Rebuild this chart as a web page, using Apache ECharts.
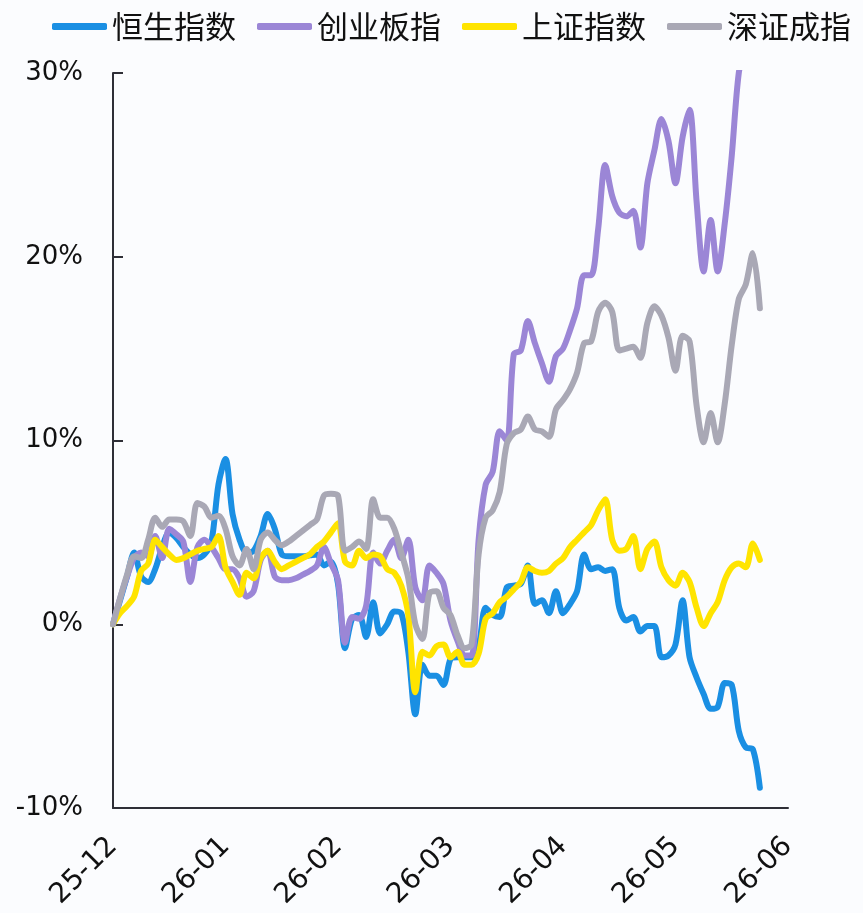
<!DOCTYPE html>
<html>
<head>
<meta charset="utf-8">
<script src="https://cdn.jsdelivr.net/npm/echarts@6/dist/echarts.min.js"></script>
<style>
html,body{margin:0;padding:0;background:#fbfcfe;}
#chart{width:863px;height:913px;}
</style>
</head>
<body>
<div id="chart"></div>
<script>
// Month tick labels (x axis)
const months = ['25-12','26-01','26-02','26-03','26-04','26-05','26-06'];
const stepsPerMonth = 16;
// Series names
const seriesNames = ['恒生指数','创业板指','上证指数','深证成指'];
// Cumulative returns (%) at each step
const hsi = [0,1.3,2.6,3.9,2.6,2.3,3.0,4.2,5.0,4.7,4.2,3.8,3.6,3.8,4.5,7.6,
  9.0,6.0,4.6,3.9,4.0,4.8,6.0,5.2,3.8,3.7,3.7,3.7,3.75,3.8,3.2,3.4,
  2.2,-1.3,0.3,0.5,-0.7,1.2,-0.5,0.0,0.7,0.6,-1.5,-4.9,-2.2,-2.8,-2.8,-3.3,
  -1.9,-1.8,-1.8,-1.8,-1.2,0.9,0.5,0.4,2.0,2.1,2.2,3.2,1.1,1.3,0.6,1.8,
  0.6,1.1,1.8,3.8,3.0,3.1,2.9,3.0,0.9,0.2,0.4,-0.4,-0.1,-0.1,-1.8,-1.7,
  -1.1,1.3,-1.8,-2.9,-3.8,-4.6,-4.5,-3.2,-3.3,-5.8,-6.7,-6.8,-8.9];
const chinext = [0,1.4,2.6,3.6,3.9,3.7,4.8,3.6,5.2,4.9,4.5,2.3,4.2,4.6,4.2,3.6,
  3.0,3.0,2.5,1.5,1.8,3.5,4.0,2.6,2.4,2.4,2.5,2.7,2.9,3.2,4.2,3.3,
  2.4,-1.0,0.4,0.3,1.0,3.9,3.3,4.0,4.6,3.6,4.6,2.0,1.3,3.2,2.8,2.2,
  0.2,-0.9,-1.7,-1.7,4.6,7.6,8.3,10.5,10.0,14.7,14.9,16.5,15.3,14.2,13.2,14.6,
  15.0,16.0,17.2,19.0,19.0,21.5,25.0,23.3,22.4,22.2,22.5,20.5,24.0,25.8,27.5,26.3,
  24.0,26.5,28.0,23.0,19.2,22.0,19.2,21.8,25.5,30.0,31.5,32.5,33.0];
const sse = [0,0.6,1.0,1.5,2.9,3.3,4.6,4.2,3.8,3.5,3.6,3.8,4.0,4.1,4.2,4.8,
  3.1,2.3,1.6,2.8,2.5,3.6,4.0,3.4,3.0,3.2,3.4,3.6,3.8,4.2,4.5,5.0,
  5.5,3.4,3.2,4.0,3.6,3.8,3.7,3.0,2.8,2.1,0.5,-3.7,-1.5,-1.7,-1.2,-1.1,
  -1.8,-1.5,-2.2,-2.2,-1.6,0.3,0.6,1.2,1.5,1.9,2.3,3.1,2.9,2.8,2.9,3.3,
  3.6,4.2,4.6,5.0,5.4,6.2,6.8,4.6,4.0,4.1,4.8,3.0,4.1,4.5,3.1,2.4,
  2.1,2.8,2.3,0.9,-0.1,0.6,1.2,2.4,3.1,3.3,3.1,4.4,3.5];
const szse = [0,1.4,2.7,3.7,3.6,4.6,5.8,5.3,5.7,5.7,5.6,4.8,6.6,6.4,5.8,5.9,
  5.2,3.7,3.2,4.1,3.0,4.6,5.0,4.6,4.3,4.5,4.8,5.1,5.4,5.7,7.0,7.1,
  7.0,4.0,4.2,4.5,4.1,6.8,5.8,5.8,5.2,3.9,2.5,0.0,-0.8,1.7,1.8,0.9,
  0.5,-0.6,-1.3,-1.1,3.8,5.8,6.2,7.2,9.8,10.4,10.6,11.3,10.6,10.5,10.2,11.7,
  12.2,12.8,13.7,15.3,15.4,17.0,17.5,17.0,14.9,15.0,15.1,14.5,16.4,17.3,16.8,15.6,
  13.8,15.7,15.4,11.9,9.9,11.5,9.9,12.0,15.2,17.7,18.5,20.2,17.2];
const colors = ['#1a8fe3','#9b86d6','#ffe400','#a9a8b5'];

const categories = [];
for (let m = 0; m < months.length - 1; m++) {
  for (let s = 0; s < stepsPerMonth; s++) categories.push(months[m] + '|' + s);
}
categories.push(months[months.length - 1] + '|0');

const dataSets = [hsi, chinext, sse, szse];
const font = 'DejaVu Sans';

const chart = echarts.init(document.getElementById('chart'));
chart.setOption({
  backgroundColor: '#fbfcfe',
  animation: false,
  color: colors,
  legend: {
    data: seriesNames,
    left: 52,
    top: 11,
    width: 811,
    padding: 0,
    icon: 'roundRect',
    itemWidth: 55,
    itemHeight: 7,
    itemGap: 21,
    textStyle: {fontFamily: 'Noto Sans CJK SC', fontSize: 31, color: '#111'}
  },
  grid: {left: 113, right: 75, top: 73, bottom: 105, containLabel: false},
  xAxis: {
    type: 'category',
    data: categories,
    boundaryGap: false,
    axisLine: {show: true, onZero: false, lineStyle: {color: '#2e2e36', width: 2}},
    axisTick: {show: false},
    splitLine: {show: false},
    axisLabel: {
      interval: function (i) { return i % stepsPerMonth === 0; },
      rotate: 45,
      margin: 34,
      fontFamily: font,
      fontSize: 28,
      color: '#111',
      formatter: function (v) { return v.split('|')[0]; }
    }
  },
  yAxis: {
    type: 'value',
    min: -10,
    max: 30,
    interval: 10,
    axisLine: {show: true, lineStyle: {color: '#2e2e36', width: 2}},
    axisTick: {show: true, inside: true, length: 10, lineStyle: {color: '#2e2e36', width: 2}},
    splitLine: {show: false},
    axisLabel: {
      margin: 30,
      fontFamily: font,
      fontSize: 26,
      color: '#111',
      formatter: '{value}%'
    }
  },
  series: seriesNames.map(function (name, k) {
    return {
      name: name,
      type: 'line',
      data: dataSets[k],
      smooth: 0.3,
      showSymbol: false,
      symbol: 'none',
      clip: true,
      lineStyle: {width: 6, color: colors[k], cap: 'round', join: 'round'},
      itemStyle: {color: colors[k]}
    };
  })
});
</script>
</body>
</html>
